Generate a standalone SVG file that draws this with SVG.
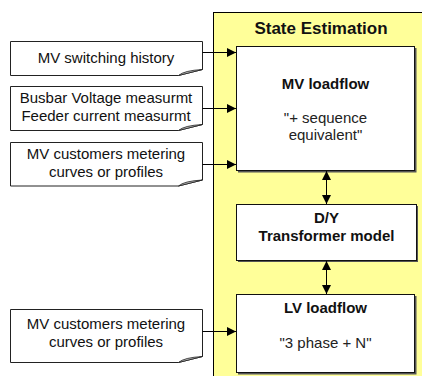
<svg xmlns="http://www.w3.org/2000/svg" width="422" height="376" viewBox="0 0 422 376">
  <defs>
    <marker id="arrow" viewBox="0 0 10 10" refX="10" refY="5" markerWidth="9" markerHeight="9" markerUnits="userSpaceOnUse" orient="auto-start-reverse">
      <path d="M0,0 L10,5 L0,10 Z" fill="#000"/>
    </marker>
    <!-- note sheet with curled lower-right corner, 192 wide -->
    <path id="curl" d="M168,0 Q173,-5 192,-6 L168,0 Z"/>
  </defs>
  <style>
    text { font-family: "Liberation Sans", Arial, sans-serif; fill: #111; }
    .note { fill: #fff; stroke: #222; stroke-width: 1; }
    .curl { fill: #bbb; stroke: #222; stroke-width: 0.8; }
    .nt { font-size: 15px; text-anchor: middle; }
    .box { fill: #fff; stroke: #111; stroke-width: 1; }
    .shadow { fill: #555; }
    .title { font-size: 17px; font-weight: bold; text-anchor: middle; }
    .bt { font-size: 15px; font-weight: bold; text-anchor: middle; }
    .bs { font-size: 15px; text-anchor: middle; fill: #222; }
    .wire { stroke: #000; stroke-width: 1; fill: none; }
  </style>

  <!-- State estimation panel -->
  <g id="panel">
    <rect x="213.5" y="12.5" width="220" height="380" fill="#ffff99" stroke="#000" stroke-width="1"/>
    <text class="title" x="321" y="34">State Estimation</text>
  </g>

  <!-- Input notes -->
  <g id="note-switching">
    <path class="note" d="M10.5,41.5 H202.5 V69.5 L178.5,75.5 H10.5 Z"/>
    <path class="curl" d="M178.5,75.5 Q184,70.5 202.5,69.5 L178.5,75.5 Z"/>
    <text class="nt" x="106" y="62.5">MV switching history</text>
  </g>
  <g id="note-measurements">
    <path class="note" d="M10.5,86.5 H202.5 V124.5 L178.5,130.5 H10.5 Z"/>
    <path class="curl" d="M178.5,130.5 Q184,125.5 202.5,124.5 L178.5,130.5 Z"/>
    <text class="nt" x="106" y="103.3">Busbar Voltage measurmt</text>
    <text class="nt" x="106" y="120.7">Feeder current measurmt</text>
  </g>
  <g id="note-mv-metering">
    <path class="note" d="M10.5,142.5 H202.5 V180 L178.5,186 H10.5 Z"/>
    <path class="curl" d="M178.5,186 Q184,181 202.5,180 L178.5,186 Z"/>
    <text class="nt" x="106" y="159.3">MV customers metering</text>
    <text class="nt" x="106" y="176.7">curves or profiles</text>
  </g>
  <g id="note-lv-metering">
    <path class="note" d="M10.5,309.5 H202.5 V356.5 L178.5,362.5 H10.5 Z"/>
    <path class="curl" d="M178.5,362.5 Q184,357.5 202.5,356.5 L178.5,362.5 Z"/>
    <text class="nt" x="106" y="329.3">MV customers metering</text>
    <text class="nt" x="106" y="346.7">curves or profiles</text>
  </g>

  <!-- Processing blocks -->
  <g id="mv-loadflow">
    <rect class="shadow" x="238" y="48" width="178.5" height="124.5"/>
    <rect class="box" x="236.5" y="46.5" width="178" height="124"/>
    <text class="bt" x="325.5" y="89">MV loadflow</text>
    <text class="bs" x="325.5" y="123">"+ sequence</text>
    <text class="bs" x="325.5" y="140">equivalent"</text>
  </g>
  <g id="dy-transformer">
    <rect class="shadow" x="238" y="206" width="180" height="56"/>
    <rect class="box" x="236.5" y="204.5" width="180" height="56"/>
    <text class="bt" x="326.5" y="223.3">D/Y</text>
    <text class="bt" x="326.5" y="240.7">Transformer model</text>
  </g>
  <g id="lv-loadflow">
    <rect class="shadow" x="238" y="296" width="178.5" height="78.5"/>
    <rect class="box" x="236.5" y="294.5" width="178" height="78"/>
    <text class="bt" x="325.5" y="313.3">LV loadflow</text>
    <text class="bs" x="325.5" y="347.5">"3 phase + N"</text>
  </g>

  <!-- Connectors -->
  <g id="connectors">
    <line class="wire" x1="202.5" y1="52.5" x2="236" y2="52.5" marker-end="url(#arrow)"/>
    <line class="wire" x1="202.5" y1="108.5" x2="236" y2="108.5" marker-end="url(#arrow)"/>
    <line class="wire" x1="202.5" y1="164.5" x2="236" y2="164.5" marker-end="url(#arrow)"/>
    <line class="wire" x1="202.5" y1="331.5" x2="236" y2="331.5" marker-end="url(#arrow)"/>
    <line class="wire" x1="326.5" y1="171" x2="326.5" y2="204" marker-start="url(#arrow)" marker-end="url(#arrow)"/>
    <line class="wire" x1="326.5" y1="261" x2="326.5" y2="294" marker-start="url(#arrow)" marker-end="url(#arrow)"/>
  </g>
</svg>
